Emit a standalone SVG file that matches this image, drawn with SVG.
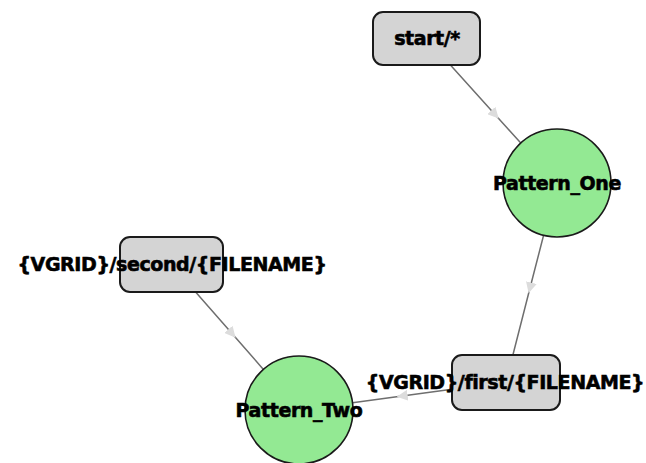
<svg xmlns="http://www.w3.org/2000/svg" width="646" height="463" viewBox="0 0 646 463">
  <style>
    .edge { fill: none; stroke: #6e6e6e; stroke-width: 1.5; marker-mid: url(#mid); }
    .box { fill: #d4d4d4; stroke: #1a1a1a; stroke-width: 2; }
    .pat { fill: #93e993; stroke: #1a1a1a; stroke-width: 1.6; }
    .lbl { font-family: "DejaVu Sans", sans-serif; font-weight: bold; font-size: 19px; fill: #000; stroke: #000; stroke-width: 0.6; text-anchor: middle; dominant-baseline: central; letter-spacing: -0.4px; }
  </style>
  <defs>
    <marker id="mid" viewBox="0 0 12 12" refX="6" refY="6" markerWidth="11" markerHeight="11" markerUnits="userSpaceOnUse" orient="auto">
      <path d="M0,0 L12,6 L0,12 Z" fill="#dcdcdc"/>
    </marker>
  </defs>
  <rect width="646" height="463" fill="#ffffff"/>

  <g id="connectors">
    <path class="edge" d="M450.4,65 L495,114.5 L520.8,142.9"/>
    <path class="edge" d="M543.6,235.3 L530,288 L512.9,355"/>
    <path class="edge" d="M452,389.3 L402.2,396 L352.5,402.8"/>
    <path class="edge" d="M195.6,292 L232,333.5 L263.4,369.4"/>
  </g>

  <g id="start">
    <rect class="box" x="373" y="12" width="107" height="53" rx="10"/>
    <text class="lbl" x="427" y="38">start/*</text>
  </g>

  <g id="pattern_one">
    <circle class="pat" cx="557" cy="183" r="54"/>
    <text class="lbl" x="557" y="183">Pattern_One</text>
  </g>

  <g id="second">
    <rect class="box" x="120" y="237" width="103" height="55" rx="10"/>
    <text class="lbl" x="172" y="264">{VGRID}/second/{FILENAME}</text>
  </g>

  <g id="pattern_two">
    <circle class="pat" cx="299" cy="410" r="54"/>
    <text class="lbl" x="299" y="410">Pattern_Two</text>
  </g>

  <g id="first">
    <rect class="box" x="452" y="355" width="108" height="55" rx="10"/>
    <text class="lbl" x="505" y="382">{VGRID}/first/{FILENAME}</text>
  </g>
</svg>
